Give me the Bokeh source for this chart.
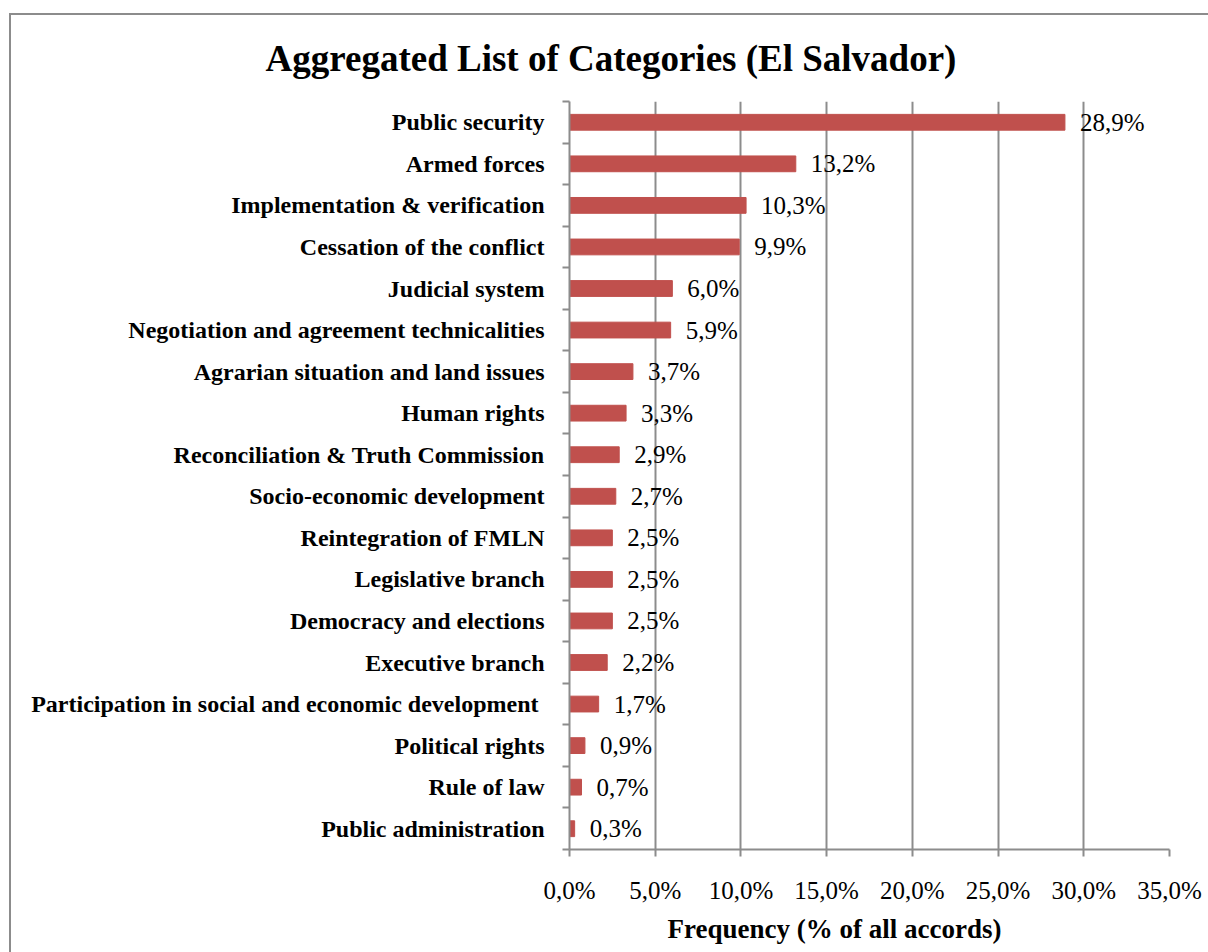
from bokeh.plotting import figure
from bokeh.models import FixedTicker, Title, ColumnDataSource
from bokeh.core.properties import value
from bokeh.embed import file_html
from bokeh.resources import INLINE

categories = [
    "Public security",
    "Armed forces",
    "Implementation & verification",
    "Cessation of the conflict",
    "Judicial system",
    "Negotiation and agreement technicalities",
    "Agrarian situation and land issues",
    "Human rights",
    "Reconciliation & Truth Commission",
    "Socio-economic development",
    "Reintegration of FMLN",
    "Legislative branch",
    "Democracy and elections",
    "Executive branch",
    "Participation in social and economic development ",
    "Political rights",
    "Rule of law",
    "Public administration",
]
frequency = [28.9, 13.2, 10.3, 9.9, 6.0, 5.9, 3.7, 3.3, 2.9, 2.7, 2.5, 2.5, 2.5, 2.2, 1.7, 0.9, 0.7, 0.3]
x_ticks = [0, 5, 10, 15, 20, 25, 30, 35]
x_tick_labels = ["0,0%", "5,0%", "10,0%", "15,0%", "20,0%", "25,0%", "30,0%", "35,0%"]

n = len(categories)
ypos = [n - i for i in range(n)]
labels = [f"{v:.1f}%".replace(".", ",") for v in frequency]

src = ColumnDataSource(dict(y=ypos, v=frequency, lab=labels, cat=categories))

SERIF = "Liberation Serif"
GRAY = "#8c8c8c"

p = figure(width=1208, height=952, output_backend="svg", toolbar_location=None,
           x_range=(0, 35), y_range=(0.5, n + 0.5),
           min_border_left=569, min_border_right=39, min_border_top=101, min_border_bottom=103)
p.outline_line_color = None
p.background_fill_color = "white"
p.border_fill_color = None
p.styles = {
    "background-color": "white",
    "box-shadow": "inset 9px 13px 0 0 white, inset 11px 15px 0 0 #8c8c8c",
}

p.hbar(y="y", right="v", left=0, height=0.38, source=src, color="#C0504D")
p.text(x="v", y="y", text="lab", source=src, x_offset=15, text_baseline="middle",
       text_align="left", text_font=value(SERIF), text_font_size="25px", text_color="black")

# x axis
xa = p.xaxis[0]
xa.ticker = FixedTicker(ticks=x_ticks)
xa.major_label_overrides = {t: l for t, l in zip(x_ticks, x_tick_labels)}
xa.major_label_text_font = SERIF
xa.major_label_text_font_size = "25px"
xa.major_label_text_color = "black"
xa.major_label_standoff = 20
xa.major_tick_out = 7
xa.major_tick_in = 0
xa.minor_tick_out = 0
xa.minor_tick_in = 0
xa.axis_line_color = GRAY
xa.axis_line_width = 2
xa.major_tick_line_color = GRAY
xa.major_tick_line_width = 2

# y axis
ya = p.yaxis[0]
ya.ticker = FixedTicker(ticks=ypos, minor_ticks=[k + 0.5 for k in range(n + 1)])
ya.major_label_overrides = {y: c for y, c in zip(ypos, categories)}
ya.major_label_text_font = SERIF
ya.major_label_text_font_size = "24px"
ya.major_label_text_font_style = "bold"
ya.major_label_text_color = "black"
ya.major_label_standoff = 18
ya.major_tick_out = 0
ya.major_tick_in = 0
ya.minor_tick_out = 7
ya.minor_tick_in = 0
ya.minor_tick_line_color = GRAY
ya.minor_tick_line_width = 2
ya.axis_line_color = GRAY
ya.axis_line_width = 2

p.xgrid.grid_line_color = GRAY
p.xgrid.grid_line_width = 2
p.ygrid.grid_line_color = None

title = Title(text="Aggregated List of Categories (El Salvador)", align="left", offset=-304,
              text_font=SERIF, text_font_size="37px", text_font_style="bold",
              text_color="black", standoff=46)
p.add_layout(title, "above")

xlabel = Title(text="Frequency (% of all accords)", align="left", offset=98,
               text_font=SERIF, text_font_size="27px", text_font_style="bold",
               text_color="black", vertical_align="top", standoff=14)
p.add_layout(xlabel, "below")

open("out.html", "w").write(file_html(p, INLINE))
